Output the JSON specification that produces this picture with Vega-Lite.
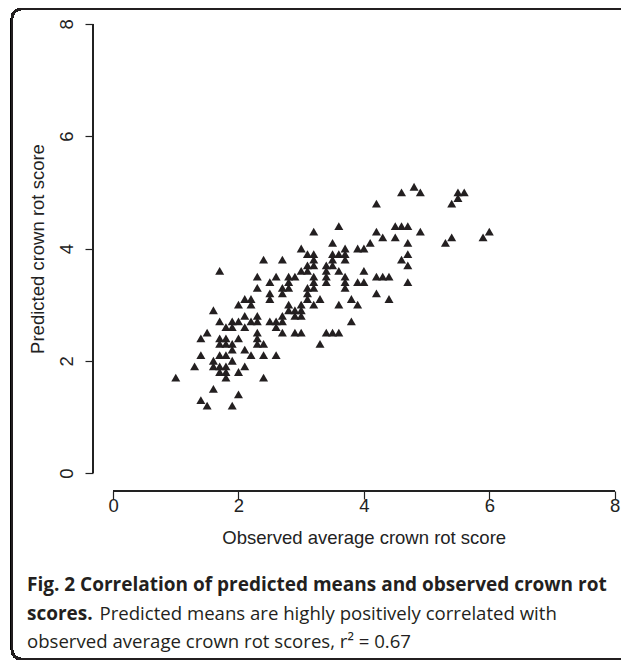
{
  "$schema": "https://vega.github.io/schema/vega-lite/v6.json",
  "width": 528,
  "height": 485,
  "autosize": {"type": "none"},
  "padding": {"left": 93, "top": 6, "right": 0, "bottom": 170},
  "background": "white",
  "config": {"view": {"stroke": null}, "font": "Liberation Sans"},
  "title": {
    "text": ["Fig. 2 Correlation of predicted means and observed crown rot", "scores."],
    "subtitle": ["\u200d\u00a0\u00a0\u00a0\u00a0\u00a0\u00a0\u00a0\u00a0\u00a0\u00a0\u00a0\u00a0\u00a0\u00a0\u00a0Predicted means are highly positively correlated with", "observed average crown rot scores, r\u00b2 = 0.67"],
    "orient": "bottom",
    "anchor": "start",
    "frame": "group",
    "font": "Open Sans",
    "fontSize": 19,
    "fontWeight": "bold",
    "color": "#231f20",
    "lineHeight": 28.5,
    "subtitleFont": "Open Sans",
    "subtitleFontSize": 18.6,
    "subtitleFontWeight": "normal",
    "subtitleColor": "#231f20",
    "subtitleLineHeight": 28.5,
    "subtitlePadding": -19,
    "dx": -66,
    "offset": -84
  },
  "data": {
    "values": [
      {"observed": 1.0, "predicted": 1.7},
      {"observed": 1.3, "predicted": 1.9},
      {"observed": 1.4, "predicted": 1.3},
      {"observed": 1.4, "predicted": 2.1},
      {"observed": 1.4, "predicted": 2.4},
      {"observed": 1.5, "predicted": 1.2},
      {"observed": 1.5, "predicted": 2.5},
      {"observed": 1.6, "predicted": 1.5},
      {"observed": 1.6, "predicted": 1.9},
      {"observed": 1.6, "predicted": 2.0},
      {"observed": 1.6, "predicted": 2.9},
      {"observed": 1.7, "predicted": 1.8},
      {"observed": 1.7, "predicted": 1.9},
      {"observed": 1.7, "predicted": 2.1},
      {"observed": 1.7, "predicted": 2.3},
      {"observed": 1.7, "predicted": 2.4},
      {"observed": 1.7, "predicted": 2.7},
      {"observed": 1.7, "predicted": 3.6},
      {"observed": 1.8, "predicted": 1.7},
      {"observed": 1.8, "predicted": 1.8},
      {"observed": 1.8, "predicted": 1.9},
      {"observed": 1.8, "predicted": 2.1},
      {"observed": 1.8, "predicted": 2.3},
      {"observed": 1.8, "predicted": 2.4},
      {"observed": 1.8, "predicted": 2.6},
      {"observed": 1.9, "predicted": 1.2},
      {"observed": 1.9, "predicted": 2.0},
      {"observed": 1.9, "predicted": 2.2},
      {"observed": 1.9, "predicted": 2.3},
      {"observed": 1.9, "predicted": 2.6},
      {"observed": 1.9, "predicted": 2.7},
      {"observed": 2.0, "predicted": 1.4},
      {"observed": 2.0, "predicted": 1.8},
      {"observed": 2.0, "predicted": 2.4},
      {"observed": 2.0, "predicted": 2.7},
      {"observed": 2.0, "predicted": 3.0},
      {"observed": 2.1, "predicted": 1.9},
      {"observed": 2.1, "predicted": 2.2},
      {"observed": 2.1, "predicted": 2.6},
      {"observed": 2.1, "predicted": 2.8},
      {"observed": 2.1, "predicted": 3.1},
      {"observed": 2.2, "predicted": 2.1},
      {"observed": 2.2, "predicted": 2.7},
      {"observed": 2.2, "predicted": 3.0},
      {"observed": 2.2, "predicted": 3.1},
      {"observed": 2.3, "predicted": 2.3},
      {"observed": 2.3, "predicted": 2.4},
      {"observed": 2.3, "predicted": 2.5},
      {"observed": 2.3, "predicted": 2.7},
      {"observed": 2.3, "predicted": 2.8},
      {"observed": 2.3, "predicted": 3.3},
      {"observed": 2.3, "predicted": 3.5},
      {"observed": 2.4, "predicted": 1.7},
      {"observed": 2.4, "predicted": 2.1},
      {"observed": 2.4, "predicted": 2.3},
      {"observed": 2.4, "predicted": 3.8},
      {"observed": 2.5, "predicted": 2.7},
      {"observed": 2.5, "predicted": 3.1},
      {"observed": 2.5, "predicted": 3.2},
      {"observed": 2.5, "predicted": 3.4},
      {"observed": 2.6, "predicted": 2.1},
      {"observed": 2.6, "predicted": 2.6},
      {"observed": 2.6, "predicted": 2.7},
      {"observed": 2.6, "predicted": 3.5},
      {"observed": 2.7, "predicted": 2.5},
      {"observed": 2.7, "predicted": 2.7},
      {"observed": 2.7, "predicted": 2.8},
      {"observed": 2.7, "predicted": 3.2},
      {"observed": 2.7, "predicted": 3.3},
      {"observed": 2.7, "predicted": 3.8},
      {"observed": 2.8, "predicted": 2.9},
      {"observed": 2.8, "predicted": 3.0},
      {"observed": 2.8, "predicted": 3.3},
      {"observed": 2.8, "predicted": 3.4},
      {"observed": 2.8, "predicted": 3.5},
      {"observed": 2.9, "predicted": 2.5},
      {"observed": 2.9, "predicted": 2.8},
      {"observed": 2.9, "predicted": 2.9},
      {"observed": 2.9, "predicted": 3.5},
      {"observed": 3.0, "predicted": 2.5},
      {"observed": 3.0, "predicted": 2.8},
      {"observed": 3.0, "predicted": 2.9},
      {"observed": 3.0, "predicted": 3.0},
      {"observed": 3.0, "predicted": 3.6},
      {"observed": 3.0, "predicted": 4.0},
      {"observed": 3.1, "predicted": 3.1},
      {"observed": 3.1, "predicted": 3.2},
      {"observed": 3.1, "predicted": 3.3},
      {"observed": 3.1, "predicted": 3.6},
      {"observed": 3.1, "predicted": 3.7},
      {"observed": 3.1, "predicted": 3.9},
      {"observed": 3.2, "predicted": 3.0},
      {"observed": 3.2, "predicted": 3.3},
      {"observed": 3.2, "predicted": 3.4},
      {"observed": 3.2, "predicted": 3.5},
      {"observed": 3.2, "predicted": 3.7},
      {"observed": 3.2, "predicted": 3.8},
      {"observed": 3.2, "predicted": 3.9},
      {"observed": 3.2, "predicted": 4.3},
      {"observed": 3.3, "predicted": 2.3},
      {"observed": 3.3, "predicted": 3.1},
      {"observed": 3.4, "predicted": 2.5},
      {"observed": 3.4, "predicted": 3.4},
      {"observed": 3.4, "predicted": 3.5},
      {"observed": 3.4, "predicted": 3.6},
      {"observed": 3.4, "predicted": 3.7},
      {"observed": 3.5, "predicted": 2.5},
      {"observed": 3.5, "predicted": 3.7},
      {"observed": 3.5, "predicted": 3.8},
      {"observed": 3.5, "predicted": 3.9},
      {"observed": 3.5, "predicted": 4.1},
      {"observed": 3.6, "predicted": 2.5},
      {"observed": 3.6, "predicted": 3.0},
      {"observed": 3.6, "predicted": 3.6},
      {"observed": 3.6, "predicted": 3.9},
      {"observed": 3.6, "predicted": 4.4},
      {"observed": 3.7, "predicted": 3.3},
      {"observed": 3.7, "predicted": 3.4},
      {"observed": 3.7, "predicted": 3.5},
      {"observed": 3.7, "predicted": 3.8},
      {"observed": 3.7, "predicted": 3.9},
      {"observed": 3.7, "predicted": 4.0},
      {"observed": 3.8, "predicted": 2.7},
      {"observed": 3.8, "predicted": 3.1},
      {"observed": 3.9, "predicted": 3.0},
      {"observed": 3.9, "predicted": 3.4},
      {"observed": 3.9, "predicted": 4.0},
      {"observed": 4.0, "predicted": 3.4},
      {"observed": 4.0, "predicted": 3.6},
      {"observed": 4.0, "predicted": 4.0},
      {"observed": 4.1, "predicted": 4.1},
      {"observed": 4.2, "predicted": 3.2},
      {"observed": 4.2, "predicted": 3.5},
      {"observed": 4.2, "predicted": 4.3},
      {"observed": 4.2, "predicted": 4.8},
      {"observed": 4.3, "predicted": 3.5},
      {"observed": 4.3, "predicted": 4.2},
      {"observed": 4.4, "predicted": 3.1},
      {"observed": 4.4, "predicted": 3.5},
      {"observed": 4.5, "predicted": 4.2},
      {"observed": 4.5, "predicted": 4.4},
      {"observed": 4.6, "predicted": 3.8},
      {"observed": 4.6, "predicted": 4.4},
      {"observed": 4.6, "predicted": 5.0},
      {"observed": 4.7, "predicted": 3.4},
      {"observed": 4.7, "predicted": 3.7},
      {"observed": 4.7, "predicted": 3.9},
      {"observed": 4.7, "predicted": 4.1},
      {"observed": 4.7, "predicted": 4.4},
      {"observed": 4.8, "predicted": 5.1},
      {"observed": 4.9, "predicted": 4.3},
      {"observed": 4.9, "predicted": 5.0},
      {"observed": 5.3, "predicted": 4.1},
      {"observed": 5.4, "predicted": 4.2},
      {"observed": 5.4, "predicted": 4.8},
      {"observed": 5.5, "predicted": 4.9},
      {"observed": 5.5, "predicted": 5.0},
      {"observed": 5.6, "predicted": 5.0},
      {"observed": 5.9, "predicted": 4.2},
      {"observed": 6.0, "predicted": 4.3}
    ]
  },
  "layer": [
    {
      "mark": {"type": "point", "shape": "triangle-up", "filled": true, "size": 81, "color": "#231f20", "opacity": 1, "strokeWidth": 0},
      "encoding": {
        "x": {
          "field": "observed", "type": "quantitative",
          "scale": {"domain": [-0.32, 8.1], "nice": false, "zero": false},
          "axis": {
            "values": [0, 2, 4, 6, 8], "format": "d", "domain": false, "grid": false,
            "tickSize": 8, "tickColor": "#222222", "tickWidth": 1.2,
            "labelFont": "Liberation Sans", "labelFontSize": 18.5, "labelColor": "#222222",
            "labelBaseline": "alphabetic", "labelPadding": 12.5, "labelFlush": false, "labelOverlap": false, "labelBound": false,
            "title": "Observed average crown rot score", "titleFont": "Liberation Sans", "titleFontSize": 18.5,
            "titleFontWeight": "normal", "titleColor": "#222222", "titleX": 270.7, "titleY": 52.3,
            "titleBaseline": "alphabetic", "titleAlign": "center"
          }
        },
        "y": {
          "field": "predicted", "type": "quantitative",
          "scale": {"domain": [-0.32, 8.32], "nice": false, "zero": false},
          "axis": {
            "values": [0, 2, 4, 6, 8], "format": "d", "domain": false, "grid": false,
            "tickSize": 8, "tickColor": "#222222", "tickWidth": 1.2,
            "labelFont": "Liberation Sans", "labelFontSize": 18.5, "labelColor": "#222222",
            "labelAngle": -90, "labelAlign": "center", "labelBaseline": "alphabetic", "labelPadding": 13,
            "labelFlush": false, "labelOverlap": false, "labelBound": false,
            "title": "Predicted crown rot score", "titleFont": "Liberation Sans", "titleFontSize": 18.5,
            "titleFontWeight": "normal", "titleColor": "#222222", "titleAngle": -90, "titleX": -50, "titleY": 242.5,
            "titleBaseline": "alphabetic", "titleAlign": "center"
          }
        }
      }
    },
    {
      "mark": {"type": "rule", "color": "#222222", "strokeWidth": 1.2},
      "encoding": {
        "x": {"datum": 0, "type": "quantitative"},
        "x2": {"datum": 8},
        "y": {"datum": -0.32, "type": "quantitative"}
      }
    },
    {
      "mark": {"type": "rule", "color": "#222222", "strokeWidth": 1.2},
      "encoding": {
        "y": {"datum": 0, "type": "quantitative"},
        "y2": {"datum": 8},
        "x": {"datum": -0.32, "type": "quantitative"}
      }
    },
    {
      "mark": {"type": "rect", "fill": null, "stroke": "#231f20", "strokeWidth": 2, "cornerRadius": 9, "clip": false},
      "encoding": {
        "x": {"datum": -1.612, "type": "quantitative"},
        "x2": {"datum": 9},
        "y": {"datum": 8.267, "type": "quantitative"},
        "y2": {"datum": -3.314}
      }
    }
  ]
}
